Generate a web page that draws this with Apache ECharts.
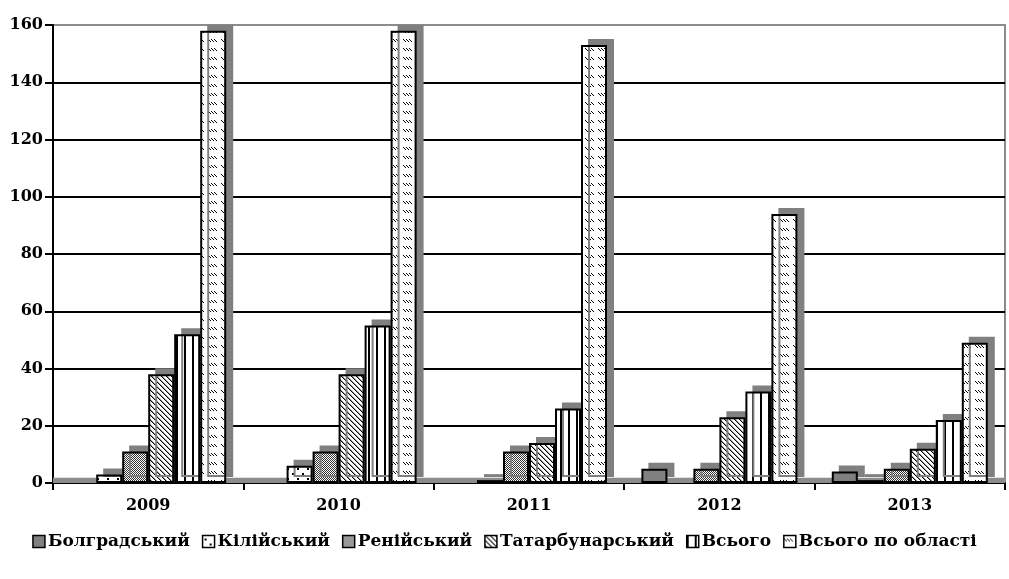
<!DOCTYPE html>
<html>
    <head>
        <meta charset="utf-8">
        <title>Chart</title>
        <script src="https://cdn.jsdelivr.net/npm/echarts@6/dist/echarts.min.js"></script>
        <style>
            html, body { margin: 0; padding: 0; background: #fff; }
        </style>
    </head>
    <body>
        <div id="container" style="width: 1009px; height: 579px"></div>
    </body>
    <script>
        var years = ['2009', '2010', '2011', '2012', '2013'];
        var yTicks = [0, 20, 40, 60, 80, 100, 120, 140, 160];

        var seriesNames = ['Болградський', 'Кілійський', 'Ренійський', 'Татарбунарський', 'Всього', 'Всього по області'];
        var bolhrad = [0, 0, 0, 5, 4];
        var kiliia = [3, 6, 1, 0, 1];
        var reni = [11, 11, 11, 5, 5];
        var tatarbunary = [38, 38, 14, 23, 12];
        var total = [52, 55, 26, 32, 22];
        var totalRegion = [158, 158, 153, 94, 49];

        var values = [bolhrad, kiliia, reni, tatarbunary, total, totalRegion];

        // small canvas tiles for the hatch fills
        function tile(w, h, draw) {
            var c = document.createElement('canvas');
            c.width = w;
            c.height = h;
            var ctx = c.getContext('2d');
            ctx.fillStyle = '#fff';
            ctx.fillRect(0, 0, w, h);
            ctx.fillStyle = '#000';
            draw(ctx);
            return { image: c, repeat: 'repeat' };
        }

        var dots = tile(10, 10, function (ctx) {
            ctx.fillRect(2, 3, 2, 2);
            ctx.fillRect(7, 8, 2, 2);
        });
        var checker = tile(2, 2, function (ctx) {
            ctx.fillStyle = '#333';
            ctx.fillRect(0, 0, 1, 1);
            ctx.fillRect(1, 1, 1, 1);
        });
        var diag = tile(5, 5, function (ctx) {
            for (var i = 0; i < 5; i++) {
                ctx.fillStyle = '#000';
                ctx.fillRect(i, i, 1, 1);
                ctx.fillStyle = '#999';
                ctx.fillRect((i + 1) % 5, i, 1, 1);
            }
        });
        var vert = tile(8, 1, function (ctx) {
            ctx.fillRect(0, 0, 2, 1);
        });
        var dashDiag = tile(13, 9, function (ctx) {
            for (var k = 0; k < 3; k++) {
                for (var j = 0; j < 3; j++) {
                    ctx.fillRect(k * 3 + j, 3 + j, 1, 1);
                }
            }
        });

        var fills = ['#808080', dots, checker, diag, vert, dashDiag];

        var font = '"DejaVu Serif", "Liberation Serif", serif';

        var chartDom = document.getElementById('container');
        var myChart = echarts.init(chartDom);

        var series = seriesNames.map(function (name, i) {
            return {
                name: name,
                type: 'bar',
                data: values[i].map(function (v) { return v === 0 ? '-' : v; }),
                barWidth: 26,
                barGap: '0%',
                itemStyle: {
                    color: fills[i],
                    borderColor: '#000',
                    borderWidth: 2,
                    shadowColor: '#808080',
                    shadowOffsetX: 7,
                    shadowOffsetY: -6,
                    shadowBlur: 0
                }
            };
        });

        // grey floor strip under the bars
        series[0].markArea = {
            silent: true,
            itemStyle: { color: '#8c8c8c' },
            data: [[{ yAxis: 0 }, { yAxis: 1.8 }]]
        };

        var splitColors = yTicks.map(function (t, i) {
            return i === yTicks.length - 1 ? '#8c8c8c' : '#000';
        });

        var option = {
            animation: false,
            backgroundColor: '#fff',
            grid: {
                left: 53,
                right: 4,
                top: 25,
                bottom: 96,
                show: true,
                borderColor: '#8c8c8c',
                borderWidth: 2
            },
            legend: {
                bottom: 24,
                left: 'center',
                icon: 'rect',
                itemWidth: 12,
                itemHeight: 12,
                itemGap: 12,
                itemStyle: {
                    borderColor: '#000',
                    borderWidth: 1.5,
                    shadowBlur: 0,
                    shadowOffsetX: 0,
                    shadowOffsetY: 0,
                    shadowColor: 'rgba(0,0,0,0)'
                },
                textStyle: {
                    fontFamily: font,
                    fontWeight: 'bold',
                    fontSize: 17,
                    color: '#000',
                    padding: [0, 0, 0, -2]
                },
                data: seriesNames
            },
            xAxis: {
                type: 'category',
                data: years,
                axisLine: { lineStyle: { color: '#000', width: 2 } },
                axisTick: { show: true, length: 7, lineStyle: { color: '#000', width: 2 } },
                axisLabel: {
                    margin: 15,
                    fontFamily: font,
                    fontWeight: 'bold',
                    fontSize: 16,
                    color: '#000'
                }
            },
            yAxis: {
                type: 'value',
                min: 0,
                max: 160,
                interval: 20,
                axisLine: { show: true, lineStyle: { color: '#000', width: 2 } },
                axisTick: { show: true, length: 8, lineStyle: { color: '#000', width: 2 } },
                axisLabel: {
                    margin: 10,
                    fontFamily: font,
                    fontWeight: 'bold',
                    fontSize: 16,
                    color: '#000'
                },
                splitLine: { show: true, lineStyle: { color: splitColors, width: 2 } }
            },
            series: series
        };

        myChart.setOption(option);
    </script>
</html>
